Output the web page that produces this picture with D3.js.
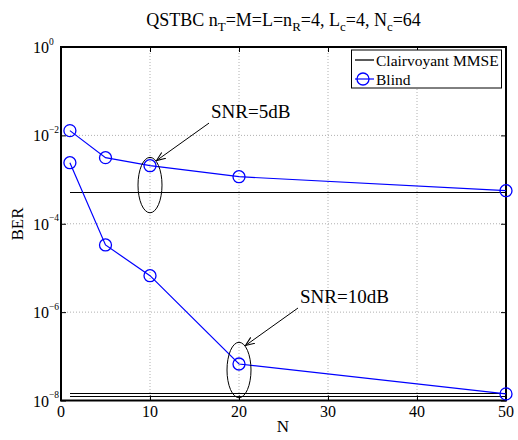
<!DOCTYPE html>
<html><head><meta charset="utf-8">
<script src="https://cdn.jsdelivr.net/npm/d3@7"></script>
<style>body{margin:0;background:#fff}svg{display:block}</style>
</head><body><svg id="c" width="518" height="440" font-family="'Liberation Serif', 'Times New Roman', Times, 'DejaVu Serif', serif"></svg>
<script>
const nValues = [1, 5, 10, 20, 50];
const blind5dB = [1.28e-2, 3.13e-3, 2.06e-3, 1.16e-3, 5.6e-4];
const blind10dB = [2.41e-3, 3.31e-5, 6.68e-6, 6.7e-8, 1.41e-8];
const clair5dB = [5.05e-4, 5.05e-4, 5.05e-4, 5.05e-4, 5.05e-4];
const clair10dBa = [1.42e-8, 1.42e-8, 1.42e-8, 1.42e-8, 1.42e-8];
const clair10dBb = [1.22e-8, 1.22e-8, 1.22e-8, 1.22e-8, 1.22e-8];
const xTicks = [0, 10, 20, 30, 40, 50];
const yTickExps = [0, -2, -4, -6, -8];
const legendLabels = ["Clairvoyant MMSE", "Blind"];
const annotations = [
  {label: "SNR=5dB", n: 10, ber: 7.5e-4},
  {label: "SNR=10dB", n: 20, ber: 4.9e-8}
];

const svg = d3.select("#c");
const L = 61, R = 506, T = 47, B = 400.5;
const x = d3.scaleLinear().domain([0, 50]).range([L, R]);
const y = d3.scaleLog().domain([1e-8, 1]).range([B, T]);

// grid
const g = svg.append("g");
g.selectAll(".gx").data(xTicks.slice(1, -1)).join("line")
  .attr("x1", d => x(d)).attr("x2", d => x(d)).attr("y1", T).attr("y2", B)
  .attr("stroke", "#b0b0b0").attr("stroke-width", 1).attr("stroke-dasharray", "1,2");
g.selectAll(".gy").data(yTickExps.slice(1, -1)).join("line")
  .attr("y1", d => y(Math.pow(10, d))).attr("y2", d => y(Math.pow(10, d))).attr("x1", L).attr("x2", R)
  .attr("stroke", "#b0b0b0").attr("stroke-width", 1).attr("stroke-dasharray", "1,2");

// axes via d3 axis (ticks inward)
const xAxisB = d3.axisBottom(x).tickValues(xTicks).tickSizeInner(-5).tickSizeOuter(0).tickFormat("");
const xAxisT = d3.axisTop(x).tickValues(xTicks).tickSizeInner(-5).tickSizeOuter(0).tickFormat("");
const yVals = yTickExps.map(e => Math.pow(10, e));
const yAxisL = d3.axisLeft(y).tickValues(yVals).tickSizeInner(-5).tickSizeOuter(0).tickFormat("");
const yAxisR = d3.axisRight(y).tickValues(yVals).tickSizeInner(-5).tickSizeOuter(0).tickFormat("");
[[xAxisB, `translate(0,${B})`], [xAxisT, `translate(0,${T})`], [yAxisL, `translate(${L},0)`], [yAxisR, `translate(${R},0)`]]
  .forEach(([ax, tr]) => {
    const a = svg.append("g").attr("transform", tr).call(ax);
    a.attr("font-family", null);
    a.select(".domain").remove();
    a.selectAll("line").attr("stroke", "#000").attr("stroke-width", 1);
  });
svg.append("rect").attr("x", L).attr("y", T).attr("width", R - L).attr("height", B - T)
  .attr("fill", "none").attr("stroke", "#000").attr("stroke-width", 2);

// tick labels
svg.append("g").selectAll("text").data(xTicks).join("text")
  .attr("x", d => x(d)).attr("y", 417).attr("text-anchor", "middle").attr("font-size", 16).text(d => d);
const yl = svg.append("g").selectAll("text").data(yTickExps).join("text")
  .attr("x", 33).attr("y", d => y(Math.pow(10, d)) + 6).attr("font-size", 16);
yl.append("tspan").text("10");
yl.append("tspan").attr("font-size", 9.5).attr("dy", -8.5).text(d => d === 0 ? "0" : "\u2212" + (-d));

// axis labels
svg.append("text").attr("x", 283).attr("y", 432).attr("text-anchor", "middle").attr("font-size", 17).text("N");
svg.append("text").attr("transform", "translate(23,224) rotate(-90)").attr("text-anchor", "middle").attr("font-size", 17).text("BER");

// title
const title = svg.append("text").attr("x", 283.5).attr("y", 26).attr("text-anchor", "middle").attr("font-size", 18);
[["QSTBC n", 0], ["T", 1], ["=M=L=n", 0], ["R", 1], ["=4, L", 0], ["c", 1], ["=4, N", 0], ["c", 1], ["=64", 0]]
  .forEach(([t, sub], i, arr) => {
    const ts = title.append("tspan").text(t);
    if (sub) ts.attr("font-size", 13).attr("dy", 5);
    else if (i > 0 && arr[i - 1][1]) ts.attr("dy", -5);
  });

// clairvoyant lines
const line = d3.line().x((d, i) => x(nValues[i])).y(d => y(d));
[clair5dB, clair10dBa, clair10dBb].forEach(s => {
  svg.append("path").attr("d", line(s)).attr("fill", "none").attr("stroke", "#000").attr("stroke-width", 1)
    .attr("shape-rendering", "crispEdges");
});
// blind
[blind5dB, blind10dB].forEach(s => {
  svg.append("path").attr("d", line(s)).attr("fill", "none").attr("stroke", "#0000ff").attr("stroke-width", 1.2);
  svg.append("g").selectAll("circle").data(s).join("circle")
    .attr("cx", (d, i) => x(nValues[i])).attr("cy", d => y(d)).attr("r", 6)
    .attr("fill", "none").attr("stroke", "#0000ff").attr("stroke-width", 1.3);
});

// annotations
const defs = svg.append("defs");
defs.append("marker").attr("id", "ah").attr("viewBox", "0 0 10 10").attr("refX", 10).attr("refY", 5)
  .attr("markerWidth", 9).attr("markerHeight", 9).attr("markerUnits", "userSpaceOnUse").attr("orient", "auto")
  .append("path").attr("d", "M0,1 L10,5 L0,9").attr("fill", "none").attr("stroke", "#000").attr("stroke-width", 1.2);
annotations.forEach(a => {
  const cx = x(a.n), cy = y(a.ber);
  svg.append("ellipse").attr("cx", cx).attr("cy", cy).attr("rx", 12).attr("ry", 27.7)
    .attr("fill", "none").attr("stroke", "#000").attr("stroke-width", 1);
  const sx = cx + 59, sy = cy - 62, ex = cx + 6.5, ey = cy - 24.5;
  svg.append("line").attr("x1", sx).attr("y1", sy).attr("x2", ex).attr("y2", ey)
    .attr("stroke", "#000").attr("stroke-width", 1).attr("marker-end", "url(#ah)");
  svg.append("text").attr("x", sx + 2).attr("y", sy - 5).attr("font-size", 19).text(a.label);
});

// legend
const lg = svg.append("g");
lg.append("rect").attr("x", 351.5).attr("y", 50).attr("width", 150).attr("height", 38)
  .attr("fill", "#fff").attr("stroke", "#000").attr("stroke-width", 1);
lg.append("line").attr("x1", 355).attr("x2", 374).attr("y1", 60).attr("y2", 60).attr("stroke", "#000").attr("stroke-width", 1.3);
lg.append("line").attr("x1", 355).attr("x2", 374).attr("y1", 79).attr("y2", 79).attr("stroke", "#0000ff").attr("stroke-width", 1.2);
lg.append("circle").attr("cx", 363).attr("cy", 79).attr("r", 6).attr("fill", "none").attr("stroke", "#0000ff").attr("stroke-width", 1.3);
lg.selectAll("text").data(legendLabels).join("text").attr("x", 376).attr("y", (d, i) => 65.5 + i * 19)
  .attr("font-size", 15.5).text(d => d);
</script></body></html>
